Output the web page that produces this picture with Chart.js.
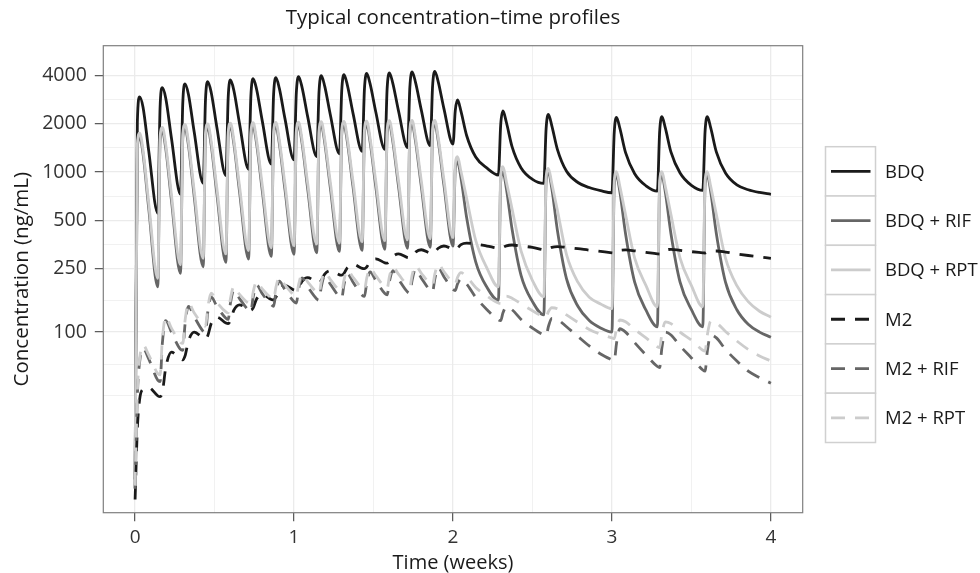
<!DOCTYPE html>
<html>
<head>
<meta charset="utf-8">
<script src="https://cdn.jsdelivr.net/npm/chart.js@4.4.1/dist/chart.umd.min.js"></script>
<style>
html,body{margin:0;padding:0;background:#fff;}
#wrap{width:980px;height:573px;}
</style>
</head>
<body>
<div id="wrap"><canvas id="c" width="980" height="573"></canvas></div>
<script>
// ---------- DATA (time in days; concentrations in ng/mL) ----------
const timeDays = [
  0, 0.1, 0.2, 0.35, 0.6,
  1, 1.1, 1.2, 1.35, 1.6,
  2, 2.1, 2.2, 2.35, 2.6,
  3, 3.1, 3.2, 3.35, 3.6,
  4, 4.1, 4.2, 4.35, 4.6,
  5, 5.1, 5.2, 5.35, 5.6,
  6, 6.1, 6.2, 6.35, 6.6,
  7, 7.1, 7.2, 7.35, 7.6,
  8, 8.1, 8.2, 8.35, 8.6,
  9, 9.1, 9.2, 9.35, 9.6,
  10, 10.1, 10.2, 10.35, 10.6,
  11, 11.1, 11.2, 11.35, 11.6,
  12, 12.1, 12.2, 12.35, 12.6,
  13, 13.1, 13.2, 13.35, 13.6,
  14, 14.1, 14.2, 14.35, 14.6, 15, 15.5,
  16, 16.1, 16.2, 16.35, 16.6, 17, 17.5,
  18, 18.1, 18.2, 18.35, 18.6, 19, 19.5, 20, 20.5,
  21, 21.1, 21.2, 21.35, 21.6, 22, 22.5,
  23, 23.1, 23.2, 23.35, 23.6, 24, 24.5,
  25, 25.1, 25.2, 25.35, 25.6, 26, 26.5, 27, 27.5, 28
];

const seriesLabels = ["BDQ", "BDQ + RIF", "BDQ + RPT", "M2", "M2 + RIF", "M2 + RPT"];

const bdq = [
  12, 2065, 2950, 2540, 1355,
  552, 2518, 3360, 2890, 1630,
  726, 2699, 3545, 3050, 1790,
  850, 2820, 3665, 3150, 1906,
  950, 2913, 3754, 3230, 2004,
  1040, 2990, 3826, 3290, 2086,
  1120, 3053, 3882, 3340, 2155,
  1190, 3114, 3938, 3390, 2217,
  1250, 3172, 3996, 3440, 2271,
  1300, 3225, 4050, 3480, 2317,
  1345, 3295, 4130, 3550, 2372,
  1385, 3331, 4165, 3580, 2408,
  1420, 3380, 4220, 3630, 2454,
  1460, 3417, 4255, 3660, 2490,
  1496, 2421, 2817, 2400, 1690, 1240, 1056,
  958, 1970, 2404, 2045, 1440, 1060, 900,
  850, 1860, 2293, 1950, 1380, 1010, 860, 800, 765,
  742, 1760, 2196, 1870, 1320, 975, 820,
  760, 1779, 2215, 1885, 1330, 985, 825,
  768, 1785, 2215, 1885, 1330, 985, 830, 775, 745, 726
];

const bdqRif = [
  10.6, 1410, 1660, 1300, 592,
  192, 1559, 1800, 1400, 667,
  233, 1633, 1880, 1466, 711,
  256, 1653, 1900, 1480, 733,
  273, 1673, 1920, 1500, 753,
  286, 1683, 1930, 1505, 765,
  297, 1694, 1940, 1513, 777,
  306, 1703, 1950, 1520, 786,
  313, 1713, 1960, 1530, 795,
  319, 1718, 1965, 1533, 801,
  324, 1727, 1975, 1540, 808,
  329, 1737, 1985, 1548, 815,
  334, 1746, 1995, 1556, 822,
  339, 1751, 2000, 1560, 828,
  344, 1038, 1160, 920, 520, 275, 190,
  158, 874, 1000, 790, 440, 225, 155,
  128, 870, 1000, 790, 430, 215, 145, 118, 106,
  100, 822, 950, 750, 410, 205, 137,
  108, 822, 950, 750, 410, 205, 138,
  108, 822, 950, 750, 410, 205, 138, 112, 100, 93
];

const bdqRpt = [
  11, 1490, 1750, 1370, 640,
  217, 1648, 1900, 1480, 723,
  263, 1722, 1980, 1545, 770,
  289, 1743, 2000, 1560, 794,
  308, 1763, 2020, 1575, 813,
  323, 1774, 2030, 1583, 828,
  336, 1784, 2040, 1591, 840,
  346, 1794, 2050, 1599, 850,
  354, 1804, 2060, 1607, 858,
  360, 1814, 2070, 1615, 866,
  366, 1823, 2080, 1622, 874,
  372, 1832, 2090, 1630, 881,
  377, 1842, 2100, 1638, 889,
  383, 1842, 2100, 1638, 895,
  389, 1117, 1246, 1010, 685, 374, 250,
  192, 946, 1079, 870, 590, 320, 210,
  166, 921, 1054, 850, 575, 305, 205, 165, 150,
  140, 875, 1005, 810, 540, 290, 195,
  144, 879, 1005, 810, 540, 290, 195,
  144, 879, 1005, 810, 540, 290, 195, 155, 135, 124
];

const m2 = [
  9, 25, 38, 44, 45,
  40, 39.6, 42, 60, 75,
  68, 67, 71, 88, 100,
  92, 91, 95, 113, 124,
  114, 113, 118, 137, 148,
  138, 137, 142, 161, 172,
  160, 159, 165, 184, 196,
  183, 182, 188, 207, 219,
  205, 204, 210, 230, 242,
  228, 227, 233, 253, 265,
  250, 249, 255, 275, 287,
  271, 270, 276, 296, 308,
  292, 291, 297, 316, 327,
  311, 310, 316, 334, 345,
  330, 329, 335, 352, 360, 355, 345,
  334, 333, 338, 346, 350, 345, 338,
  326, 325, 330, 338, 342, 338, 332, 325, 319,
  313, 312, 317, 324, 326, 322, 315,
  308, 307, 313, 324, 329, 324, 318,
  313, 312, 316, 320, 321, 316, 308, 301, 295, 289
];

const m2Rif = [
  10.5, 40, 65, 79, 68,
  50, 49, 85, 118, 100,
  78, 77, 112, 145, 125,
  101, 99, 133, 166, 145,
  122, 120, 152, 183, 162,
  137, 135, 166, 197, 174,
  148, 145, 177, 208, 184,
  155, 152, 185, 218, 192,
  161, 158, 192, 225, 199,
  166, 163, 198, 232, 205,
  170, 167, 203, 238, 210,
  174, 171, 207, 242, 214,
  178, 175, 211, 247, 218,
  182, 179, 215, 252, 222,
  185, 182, 200, 215, 200, 165, 138,
  119, 118, 132, 144, 138, 120, 106,
  96, 95, 108, 122, 120, 108, 94, 82, 73,
  67, 66, 85, 105, 100, 86, 72,
  61, 60, 80, 100, 96, 82, 69,
  58, 57, 76, 96, 92, 78, 66, 57, 52, 48
];

const m2Rpt = [
  11, 42, 68, 83, 72,
  55, 54, 90, 124, 106,
  86, 85, 118, 152, 132,
  111, 109, 142, 175, 154,
  134, 132, 162, 193, 172,
  151, 149, 178, 207, 186,
  163, 160, 190, 219, 197,
  170, 167, 198, 229, 206,
  177, 174, 206, 237, 213,
  182, 179, 212, 244, 220,
  187, 184, 217, 250, 225,
  191, 188, 222, 255, 230,
  196, 193, 227, 260, 234,
  200, 197, 231, 265, 239,
  203, 200, 220, 235, 222, 190, 168,
  152, 151, 160, 168, 163, 150, 136,
  125, 124, 134, 142, 140, 128, 115, 104, 97,
  92, 91, 105, 119, 116, 104, 92,
  81, 80, 98, 116, 113, 100, 89,
  77, 76, 96, 117, 114, 101, 88, 78, 71, 66
];

// axis ticks
const xMajorTicks = [0, 1, 2, 3, 4];
const xMinorTicks = [0.5, 1.5, 2.5, 3.5];
const yMajorTicks = [100, 250, 500, 1000, 2000, 4000];
const yMinorTicks = [40, 63.2, 158.1, 353.6, 707.1, 1414.2, 2828.4];

// ---------- STYLE ----------
const FONT = "'Open Sans', 'DejaVu Sans', sans-serif";
const seriesValues = [bdq, bdqRif, bdqRpt, m2, m2Rif, m2Rpt];
const seriesColors = ['#1a1a1a', '#666666', '#cccccc', '#1a1a1a', '#666666', '#cccccc'];
const seriesDashed = [false, false, false, true, true, true];
const DASH = [14, 10];
const LW = 2.8;

const datasets = seriesLabels.map((lab, i) => ({
  label: lab,
  data: timeDays.map((t, k) => ({ x: t / 7, y: seriesValues[i][k] })),
  borderColor: seriesColors[i],
  backgroundColor: seriesColors[i],
  borderWidth: LW,
  borderDash: seriesDashed[i] ? DASH : [],
  borderJoinStyle: 'round',
  borderCapStyle: 'butt',
  pointRadius: 0,
  pointHoverRadius: 0,
  fill: false,
  cubicInterpolationMode: 'monotone',
  order: seriesLabels.length - i
}));

const isIn = (arr, v) => arr.some(a => Math.abs(a - v) < 1e-6);

const panelPlugin = {
  id: 'panelBorder',
  afterDatasetsDraw(chart) {
    const { ctx, chartArea: a } = chart;
    ctx.save();
    ctx.strokeStyle = '#7f7f7f';
    ctx.lineWidth = 1.2;
    ctx.strokeRect(a.left, a.top, a.right - a.left, a.bottom - a.top);
    ctx.restore();
  }
};

const legendPlugin = {
  id: 'ggLegend',
  afterDraw(chart) {
    const ctx = chart.ctx;
    const x0 = 825.5, y0 = 146.7, kw = 50, kh = 49.3;
    chart.data.datasets.forEach((ds, i) => {
      const y = y0 + i * kh;
      ctx.save();
      ctx.fillStyle = '#ffffff';
      ctx.fillRect(x0, y, kw, kh);
      ctx.strokeStyle = '#d0d0d0';
      ctx.lineWidth = 1.5;
      ctx.strokeRect(x0, y, kw, kh);
      ctx.strokeStyle = ds.borderColor;
      ctx.lineWidth = ds.borderWidth;
      ctx.lineCap = 'butt';
      ctx.setLineDash(ds.borderDash || []);
      ctx.beginPath();
      ctx.moveTo(x0 + 5.5, y + kh / 2);
      ctx.lineTo(x0 + 45, y + kh / 2);
      ctx.stroke();
      ctx.setLineDash([]);
      ctx.fillStyle = '#1a1a1a';
      ctx.font = "18.5px " + FONT;
      ctx.textBaseline = 'middle';
      ctx.textAlign = 'left';
      ctx.fillText(ds.label, 885, y + kh / 2 + 1);
      ctx.restore();
    });
  }
};

new Chart(document.getElementById('c'), {
  type: 'line',
  data: { datasets },
  options: {
    responsive: false,
    devicePixelRatio: 1,
    animation: false,
    events: [],
    layout: { padding: { left: 0, right: 177.3, top: 0, bottom: 0 } },
    plugins: {
      legend: { display: false },
      tooltip: { enabled: false },
      title: {
        display: true,
        text: 'Typical concentration–time profiles',
        fullSize: false,
        color: '#1a1a1a',
        font: { family: FONT, size: 20.5, weight: 'normal', lineHeight: 1.2 },
        padding: { top: 6, bottom: 45.7 - 6 - 24.6 }
      }
    },
    scales: {
      x: {
        type: 'linear',
        min: -0.2,
        max: 4.2,
        afterBuildTicks: s => { s.ticks = [...xMajorTicks, ...xMinorTicks].sort((a, b) => a - b).map(v => ({ value: v })); },
        afterFit: s => { s.height = 573 - 512.7; },
        border: { display: false },
        grid: {
          color: '#ebebeb',
          lineWidth: c => (c.tick && isIn(xMajorTicks, c.tick.value)) ? 1.3 : 0.7,
          tickColor: c => (c.tick && isIn(xMajorTicks, c.tick.value)) ? '#555555' : 'rgba(0,0,0,0)',
          tickLength: 8.5,
          tickWidth: 1.2
        },
        ticks: {
          autoSkip: false,
          maxRotation: 0,
          padding: 5,
          color: '#333333',
          font: { family: FONT, size: 19 },
          callback: v => isIn(xMajorTicks, v) ? String(v) : ''
        },
        title: {
          display: true,
          text: 'Time (weeks)',
          color: '#1a1a1a',
          font: { family: FONT, size: 20, lineHeight: 1 },
          padding: { top: 0, bottom: 0 }
        }
      },
      y: {
        type: 'logarithmic',
        min: 7.45,
        max: 6150,
        afterBuildTicks: s => { s.ticks = [...yMajorTicks, ...yMinorTicks].sort((a, b) => a - b).map(v => ({ value: v })); },
        afterFit: s => { s.width = 103.3; },
        border: { display: false },
        grid: {
          color: '#ebebeb',
          lineWidth: c => (c.tick && isIn(yMajorTicks, c.tick.value)) ? 1.3 : 0.7,
          tickColor: c => (c.tick && isIn(yMajorTicks, c.tick.value)) ? '#555555' : 'rgba(0,0,0,0)',
          tickLength: 8.5,
          tickWidth: 1.2
        },
        ticks: {
          autoSkip: false,
          padding: 8,
          color: '#333333',
          font: { family: FONT, size: 19.5 },
          callback: v => isIn(yMajorTicks, v) ? String(v) : ''
        },
        title: {
          display: true,
          text: 'Concentration (ng/mL)',
          color: '#1a1a1a',
          font: { family: FONT, size: 20.5, lineHeight: 1.2 },
          padding: { top: 10, bottom: 0 }
        }
      }
    }
  },
  plugins: [panelPlugin, legendPlugin]
});
</script>
</body>
</html>
